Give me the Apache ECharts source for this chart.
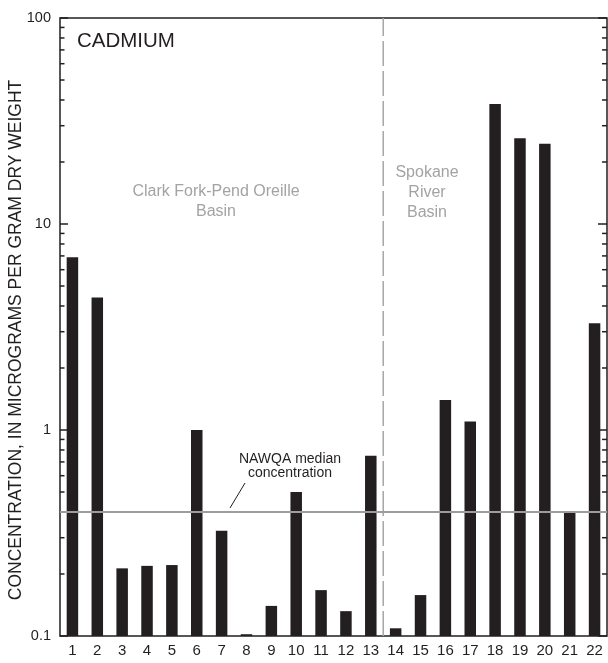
<!DOCTYPE html>
<html>
<head>
<meta charset="utf-8">
<script src="https://cdn.jsdelivr.net/npm/echarts@6/dist/echarts.min.js"></script>
<style>
html,body{margin:0;padding:0;background:#fff;}
#main{width:608px;height:663px;}
</style>
</head>
<body>
<div id="main"></div>
<script>
// sites 1-22, cadmium in sediment
var sites = ['1','2','3','4','5','6','7','8','9','10','11','12','13','14','15','16','17','18','19','20','21','22'];
var cadmium = [6.9,4.4,0.213,0.219,0.221,1.0,0.324,0.102,0.140,0.50,0.167,0.132,0.75,0.109,0.158,1.40,1.10,38.2,26.1,24.5,0.40,3.3];
var nawqaMedian = 0.4;
var basinSplit = 13; // between site 13 and 14
var yMin = 0.1, yMax = 100;
var minorVals = [0.2,0.3,0.4,0.5,0.6,0.7,0.8,0.9,2,3,4,5,6,7,8,9,20,30,40,50,60,70,80,90];

var ff = '"Liberation Sans", Arial, Helvetica, sans-serif';
var myChart = echarts.init(document.getElementById('main'));

var barData = [];
for (var i = 0; i < cadmium.length; i++) {
	barData.push([i, cadmium[i]]);
}
var minorData = [];
for (var i = 0; i < minorVals.length; i++) {
	minorData.push([0, minorVals[i]]);
}

var option = {
	animation: false,
	grid: {left: 60, right: 1, top: 18, bottom: 27, show: true, borderColor: '#231f20', borderWidth: 1.5,
		backgroundColor: 'transparent', containLabel: false, outerBoundsMode: 'none'},
	xAxis: [{
		type: 'category',
		data: sites,
		axisLine: {show: false},
		axisTick: {show: false},
		axisLabel: {color: '#231f20', fontSize: 15, fontFamily: ff, margin: 7}
	}, {
		type: 'value',
		min: 0, max: sites.length,
		show: false
	}],
	yAxis: [{
		type: 'log',
		logBase: 10,
		min: yMin, max: yMax,
		name: 'CONCENTRATION, IN MICROGRAMS PER GRAM DRY WEIGHT',
		nameLocation: 'middle',
		nameGap: 35,
		nameMoveOverlap: false,
		nameTextStyle: {color: '#231f20', fontSize: 17.5, fontFamily: ff, padding: [0, 26, 0, 0]},
		axisLine: {show: false},
		axisTick: {show: true, inside: true, length: 8, lineStyle: {color: '#231f20', width: 1.5}},
		axisLabel: {color: '#231f20', fontSize: 14.5, fontFamily: ff, margin: 9,
			formatter: function(v){ return String(+v.toPrecision(3)); }},
		splitLine: {show: false}
	}, {
		type: 'log',
		logBase: 10,
		min: yMin, max: yMax,
		position: 'right',
		axisLine: {show: false},
		axisTick: {show: true, inside: true, length: 9, lineStyle: {color: '#231f20', width: 1.5}},
		axisLabel: {show: false},
		splitLine: {show: false}
	}],
	series: [{
		type: 'custom',
		data: barData,
		encode: {x: 0, y: 1},
		renderItem: function(params, api){
			var top = api.coord([api.value(0), api.value(1)]);
			var base = api.coord([api.value(0), yMin]);
			var w = 11.5;
			return {type: 'rect', shape: {x: top[0] - w / 2, y: top[1], width: w, height: base[1] - top[1]},
				style: {fill: '#231f20'}};
		},
		markLine: {
			silent: true,
			symbol: ['none', 'none'],
			label: {show: false},
			lineStyle: {color: '#9d9d9d', width: 2, type: 'solid'},
			data: [{yAxis: nawqaMedian}]
		},
		z: 2
	}, {
		type: 'line',
		xAxisIndex: 1,
		yAxisIndex: 0,
		data: [[basinSplit, yMin], [basinSplit, yMax]],
		symbol: 'none',
		lineStyle: {color: '#a8a8a8', width: 1.5, type: [25, 5]},
		z: 1
	}, {
		type: 'custom',
		data: minorData,
		encode: {x: 0, y: 1},
		renderItem: function(params, api){
			var y = api.coord([0, api.value(1)])[1];
			var cs = params.coordSys;
			return {type: 'group', children: [
				{type: 'line', shape: {x1: cs.x, y1: y, x2: cs.x + 4.5, y2: y}, style: {stroke: '#231f20', lineWidth: 1.5}},
				{type: 'line', shape: {x1: cs.x + cs.width, y1: y, x2: cs.x + cs.width - 5, y2: y}, style: {stroke: '#231f20', lineWidth: 1.5}}
			]};
		},
		z: 3
	}],
	graphic: [
		{type: 'text', left: 77, top: 31, style: {text: 'CADMIUM', fill: '#231f20', font: '20.5px ' + ff}},
		{type: 'text', x: 216, y: 202, style: {text: 'Clark Fork-Pend Oreille\nBasin', fill: '#a3a3a3', font: '16px ' + ff, align: 'center', verticalAlign: 'middle', lineHeight: 20}},
		{type: 'text', x: 427, y: 193, style: {text: 'Spokane\nRiver\nBasin', fill: '#a3a3a3', font: '16px ' + ff, align: 'center', verticalAlign: 'middle', lineHeight: 20}},
		{type: 'text', x: 290, y: 466, style: {text: 'NAWQA median\nconcentration', fill: '#231f20', font: '14px ' + ff, align: 'center', verticalAlign: 'middle', lineHeight: 14}},
		{type: 'line', shape: {x1: 230, y1: 508, x2: 245, y2: 483}, style: {stroke: '#231f20', lineWidth: 1}}
	]
};
myChart.setOption(option);
</script>
</body>
</html>
